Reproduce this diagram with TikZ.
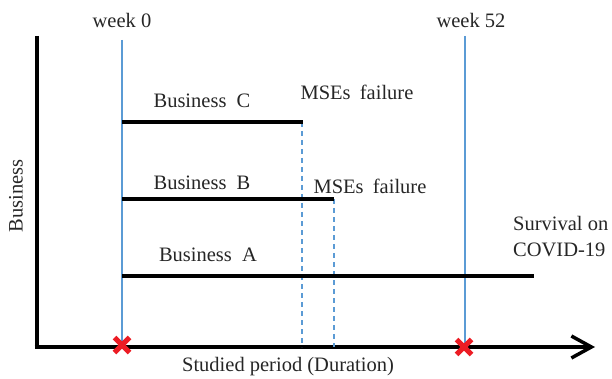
\documentclass[tikz,border=0pt]{standalone}
\usepackage{fontspec}
\setmainfont{Liberation Serif}
\usetikzlibrary{arrows.meta,calc}
\definecolor{lineblue}{RGB}{91,155,213}
\definecolor{xred}{RGB}{236,28,36}
\tikzset{
  axis/.style={line width=4.8pt},
  bar/.style={line width=4.5pt},
  weekline/.style={lineblue, line width=1.2pt},
  failline/.style={lineblue, line width=1.1pt, dash pattern=on 5pt off 4pt},
  lbl/.style={font=\fontsize{20.5}{24}\selectfont, text=black!85, inner sep=0pt},
  redx/.style={xred, line width=5pt},
}
\begin{document}
\begin{tikzpicture}[x=1pt,y=-1pt]
\useasboundingbox (0,0) rectangle (612,379);
% axes
\coordinate (O) at (37,347);
\coordinate (Ytop) at (37,36);
\coordinate (Xend) at (595,347);
\draw[axis] (Ytop) -- (O);
\draw[axis, -{Straight Barb[length=20pt,width=22pt,line width=3.5pt]}] ($(O)+(-2.4,0)$) -- (Xend);
% week lines
\coordinate (w0top) at (122,40);
\coordinate (w0bot) at (122,347);
\coordinate (w52top) at (465,36);
\coordinate (w52bot) at (465,347);
\draw[weekline] (w0top) -- (w0bot);
\draw[weekline] (w52top) -- (w52bot);
\node[lbl] (week0) at (122,20) {week 0};
\node[lbl] (week52) at (471,20) {week 52};
% bars
\coordinate (cS) at (122,122); \coordinate (cE) at (303,122);
\coordinate (bS) at (122,199); \coordinate (bE) at (334,199);
\coordinate (aS) at (122,276); \coordinate (aE) at (534,276);
\coordinate (cD) at (302,347); \coordinate (bD) at (334,347);
\draw[failline] (302,122) -- (cD);
\draw[failline] (334,199) -- (bD);
\draw[bar] (cS) -- (cE);
\draw[bar] (bS) -- (bE);
\draw[bar] (aS) -- (aE);
\node[lbl] (busC) at (202,101) {Business\hspace{0.5em}C};
\node[lbl] (busB) at (202,183) {Business\hspace{0.5em}B};
\node[lbl] (busA) at (208,255) {Business\hspace{0.5em}A};
\node[lbl] (failC) at (357,92) {MSEs\hspace{0.45em}failure};
\node[lbl] (failB) at (370,186) {MSEs\hspace{0.45em}failure};
\node[lbl, anchor=west, align=left] (surv) at (513,237) {Survival on\\[2pt]COVID-19};
\node[lbl, rotate=90] (yl) at (16,196) {Business};
\node[lbl] (xl) at (288,367) {Studied period (Duration)};
% red crosses
\foreach \cx/\cy/\nm in {122/345/x0, 464/347/x52}{
  \coordinate (\nm) at (\cx,\cy);
  \draw[redx] ($(\nm)+(-7.5,-7.5)$) -- ($(\nm)+(7.5,7.5)$);
  \draw[redx] ($(\nm)+(-7.5,7.5)$) -- ($(\nm)+(7.5,-7.5)$);
}
\end{tikzpicture}
\end{document}
